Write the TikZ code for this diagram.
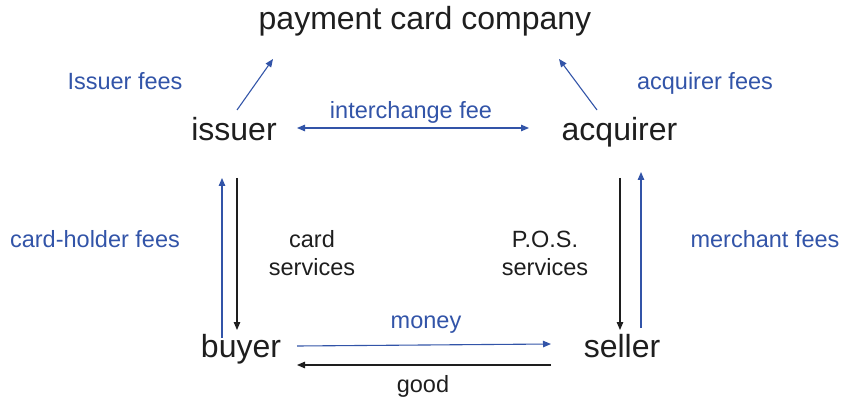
\documentclass[tikz,border=0pt]{standalone}
\usepackage{fontspec}
\setmainfont{Liberation Sans}
\usetikzlibrary{arrows.meta}
\definecolor{feecol}{RGB}{50,84,168}
\definecolor{inkcol}{RGB}{30,30,30}
\tikzset{every picture/.style={x=1pt,y=-1pt}}
\tikzset{party/.style={text=inkcol,inner sep=0pt,anchor=base,font=\fontsize{32}{36}\selectfont}}
\tikzset{label/.style={inner sep=0pt,align=center,font=\fontsize{23.5}{28}\selectfont}}
\tikzset{flow/.style={line width=1.1pt,-{Triangle[length=8pt,width=6.5pt]}}}
\tikzset{twoway/.style={line width=1.1pt,{Triangle[length=8pt,width=6.5pt]}-{Triangle[length=8pt,width=6.5pt]}}}

\begin{document}
\begin{tikzpicture}
\useasboundingbox (0,0) rectangle (843,398);

\node [party] (company) at (425,30) {payment card company};
\node [party] (issuer) at (234,141) {issuer};
\node [party] (acquirer) at (619.5,141) {acquirer};
\node [party] (buyer) at (241,357) {buyer};
\node [party] (seller) at (622,357) {seller};

\coordinate (iss-up) at (237,110);
\coordinate (comp-l) at (273,59);
\coordinate (acq-up) at (597,110);
\coordinate (comp-r) at (559,59);
\coordinate (ic-l) at (297,128);
\coordinate (ic-r) at (529,128);
\coordinate (iss-b) at (222,178);
\coordinate (buy-b) at (222,338);
\coordinate (iss-s) at (237,178);
\coordinate (buy-s) at (237,330);
\coordinate (acq-s) at (620,178);
\coordinate (sel-s) at (620,330);
\coordinate (acq-m) at (641,172);
\coordinate (sel-m) at (641,328);
\coordinate (buy-m) at (297,346);
\coordinate (sel-mo) at (551,344);
\coordinate (sel-g) at (551,365);
\coordinate (buy-g) at (297,365);

\draw [feecol,flow] (iss-up) -- (comp-l);
\draw [feecol,flow] (acq-up) -- (comp-r);
\draw [feecol,twoway] (ic-l) -- (ic-r);
\draw [feecol,flow] (buy-b) -- (iss-b);
\draw [inkcol,flow] (iss-s) -- (buy-s);
\draw [inkcol,flow] (acq-s) -- (sel-s);
\draw [feecol,flow] (sel-m) -- (acq-m);
\draw [feecol,flow] (buy-m) -- (sel-mo);
\draw [inkcol,flow] (sel-g) -- (buy-g);

\node [label,feecol] (issfee) at (125,81) {Issuer fees};
\node [label,feecol] (acqfee) at (705,83) {acquirer fees};
\node [label,feecol] (icfee) at (411,112) {interchange fee};
\node [label,feecol] (holder) at (95,239) {card-holder fees};
\node [label,feecol] (merchant) at (765,239) {merchant fees};
\node [label,inkcol] (cardsv) at (312,253) {card\\services};
\node [label,inkcol] (possv) at (545,253) {P.O.S.\\services};
\node [label,feecol] (money) at (426,325) {money};
\node [label,inkcol] (good) at (423,386) {good};
\end{tikzpicture}
\end{document}
